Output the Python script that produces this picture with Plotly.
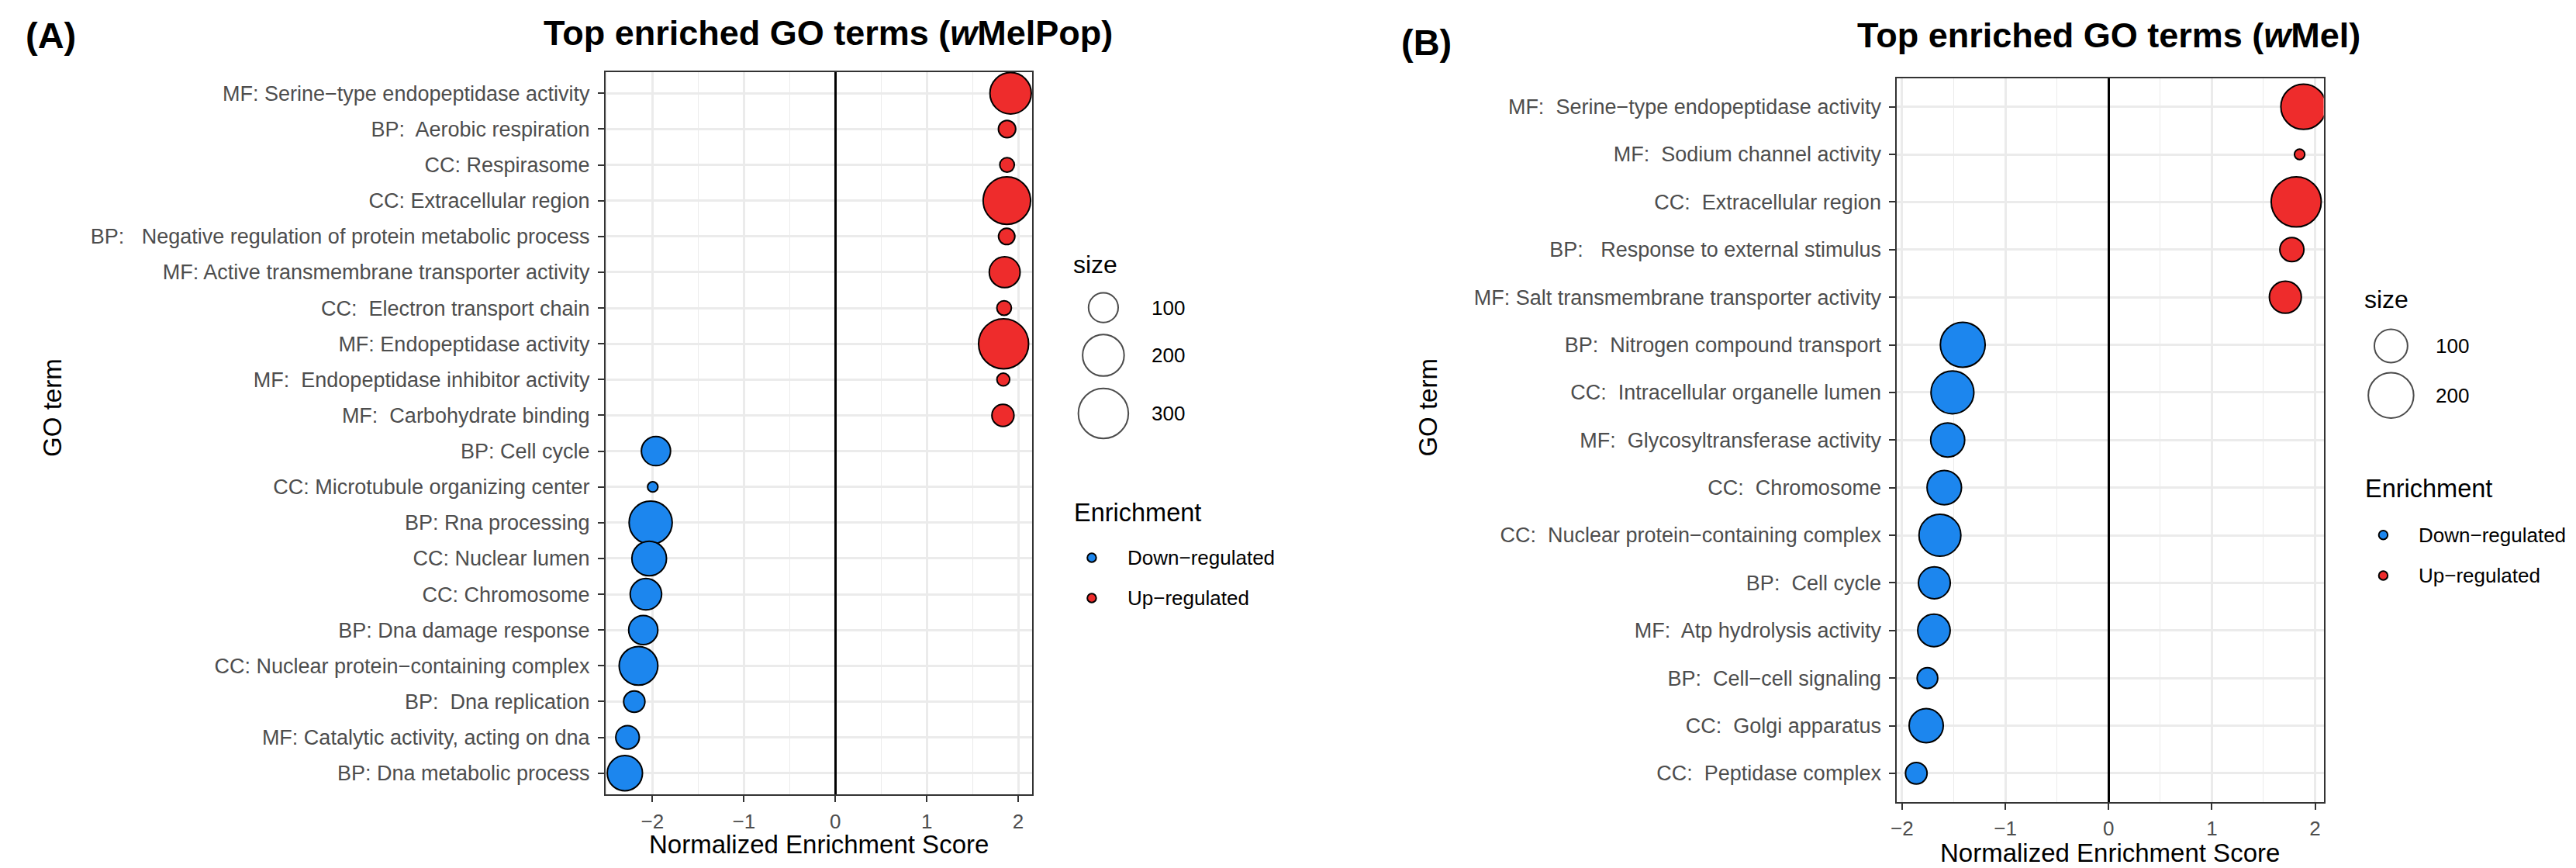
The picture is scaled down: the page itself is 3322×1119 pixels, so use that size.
import numpy as np
import plotly.graph_objects as go

W, H = 3322, 1119

# ---------------- data ----------------
terms_a = [
    "MF: Serine\u2212type endopeptidase activity",
    "BP:\u00a0 Aerobic respiration",
    "CC: Respirasome",
    "CC: Extracellular region",
    "BP:\u00a0\u00a0 Negative regulation of protein metabolic process",
    "MF: Active transmembrane transporter activity",
    "CC:\u00a0 Electron transport chain",
    "MF: Endopeptidase activity",
    "MF:\u00a0 Endopeptidase inhibitor activity",
    "MF:\u00a0 Carbohydrate binding",
    "BP: Cell cycle",
    "CC: Microtubule organizing center",
    "BP: Rna processing",
    "CC: Nuclear lumen",
    "CC: Chromosome",
    "BP: Dna damage response",
    "CC: Nuclear protein\u2212containing complex",
    "BP:\u00a0 Dna replication",
    "MF: Catalytic activity, acting on dna",
    "BP: Dna metabolic process",
]
nes_a = [1.917, 1.878, 1.878, 1.876, 1.874, 1.852, 1.846, 1.840, 1.837, 1.833,
         -1.962, -1.997, -2.020, -2.036, -2.072, -2.101, -2.153, -2.199, -2.273, -2.302]
size_a = [198, 46, 41, 267, 44, 108, 41, 300, 39, 61,
          97, 38, 217, 136, 112, 97, 172, 58, 67, 141]

terms_b = [
    "MF:\u00a0 Serine\u2212type endopeptidase activity",
    "MF:\u00a0 Sodium channel activity",
    "CC:\u00a0 Extracellular region",
    "BP:\u00a0\u00a0 Response to external stimulus",
    "MF: Salt transmembrane transporter activity",
    "BP:\u00a0 Nitrogen compound transport",
    "CC:\u00a0 Intracellular organelle lumen",
    "MF:\u00a0 Glycosyltransferase activity",
    "CC:\u00a0 Chromosome",
    "CC:\u00a0 Nuclear protein\u2212containing complex",
    "BP:\u00a0 Cell cycle",
    "MF:\u00a0 Atp hydrolysis activity",
    "BP:\u00a0 Cell\u2212cell signaling",
    "CC:\u00a0 Golgi apparatus",
    "CC:\u00a0 Peptidase complex",
]
nes_b = [1.888, 1.850, 1.817, 1.775, 1.712,
         -1.412, -1.512, -1.558, -1.591, -1.633, -1.687, -1.691, -1.754, -1.766, -1.862]
size_b = [200, 25, 250, 52, 92,
          195, 176, 105, 108, 167, 91, 95, 40, 106, 43]

size_breaks_a = [100, 200, 300]
size_breaks_b = [100, 200]
enrich_labels = ["Down\u2212regulated", "Up\u2212regulated"]
x_tick_vals = [-2, -1, 0, 1, 2]
x_tick_text = ["\u22122", "\u22121", "0", "1", "2"]
x_minor_vals = [-2.5, -1.5, -0.5, 0.5, 1.5]

# ---------------- style ----------------
COL_DOWN = "#1C86EE"
COL_UP = "#EE2C2C"
GRID = "#EBEBEB"
FONT = "Liberation Sans, Arial, Helvetica, sans-serif"
D_MIN, D_MAX = 15.3, 66.5
LW = 2.0


def diam(v, vmin, vmax):
    v = np.asarray(v, dtype=float)
    return D_MIN + (D_MAX - D_MIN) * np.sqrt(np.clip((v - vmin) / (vmax - vmin), 0, 1))


# panel pixel boxes (left, right, top, bottom)
PA = (766.8, 1318.3, 84.6, 1016.4)
PB = (2436.2, 2987.8, 92.8, 1025.7)


def dx(l, r):
    return [l / W, r / W]


def dy(t, b):
    return [1 - b / H, 1 - t / H]


def px(x):
    return x / W


def py(y):
    return 1 - y / H


fig = go.Figure()

vmin_a, vmax_a = min(size_a), max(size_a)
vmin_b, vmax_b = min(size_b), max(size_b)

fig.add_trace(go.Scatter(
    x=nes_a, y=terms_a, mode="markers", xaxis="x", yaxis="y",
    marker=dict(size=diam(size_a, vmin_a, vmax_a) - LW,
                color=[COL_UP if v > 0 else COL_DOWN for v in nes_a],
                line=dict(color="black", width=LW), opacity=1),
    showlegend=False, hoverinfo="skip"))

fig.add_trace(go.Scatter(
    x=nes_b, y=terms_b, mode="markers", xaxis="x2", yaxis="y2",
    marker=dict(size=diam(size_b, vmin_b, vmax_b) - LW,
                color=[COL_UP if v > 0 else COL_DOWN for v in nes_b],
                line=dict(color="black", width=LW), opacity=1),
    showlegend=False, hoverinfo="skip"))


def xaxis_cfg(box, rng):
    return dict(
        domain=dx(box[0], box[1]), range=rng,
        tickmode="array", tickvals=x_tick_vals, ticktext=x_tick_text,
        showgrid=True, gridcolor=GRID, gridwidth=2.6,
        minor=dict(tickmode="array", tickvals=x_minor_vals, showgrid=True,
                   gridcolor=GRID, gridwidth=1.4, ticks=""),
        zeroline=True, zerolinecolor="black", zerolinewidth=3,
        showline=True, mirror=True, linecolor="#333333", linewidth=2,
        ticks="outside", ticklen=8, tickwidth=2.2, tickcolor="#333333",
        tickfont=dict(family=FONT, size=26, color="#4D4D4D"),
        ticklabelstandoff=2, fixedrange=True)


def yaxis_cfg(box, terms, anchor):
    n = len(terms)
    return dict(
        domain=dy(box[2], box[3]), type="category",
        categoryorder="array", categoryarray=list(reversed(terms)),
        range=[-0.6, n - 1 + 0.6],
        showgrid=True, gridcolor=GRID, gridwidth=2.6, zeroline=False,
        showline=True, mirror=True, linecolor="#333333", linewidth=2,
        ticks="outside", ticklen=8, tickwidth=2.2, tickcolor="#333333",
        tickfont=dict(family=FONT, size=27, color="#4D4D4D"),
        ticklabelstandoff=5, anchor=anchor, fixedrange=True)


fig.update_layout(
    width=W, height=H, margin=dict(l=0, r=0, t=0, b=0),
    paper_bgcolor="white", plot_bgcolor="rgba(0,0,0,0)",
    font=dict(family=FONT, color="black"),
    xaxis=dict(anchor="y", **xaxis_cfg(PA, [-2.513, 2.153])),
    yaxis=yaxis_cfg(PA, terms_a, "x"),
    xaxis2=dict(anchor="y2", **xaxis_cfg(PB, [-2.049, 2.083])),
    yaxis2=yaxis_cfg(PB, terms_b, "x2"),
    xaxis3=dict(domain=[0, 1], range=[0, W], visible=False, fixedrange=True, anchor="y3"),
    yaxis3=dict(domain=[0, 1], range=[H, 0], visible=False, fixedrange=True, anchor="x3"),
    showlegend=False,
)

ann = []


def text(x, y, s, size, xanchor="left", bold=False, angle=0, color="black"):
    if bold:
        s = "<b>" + s + "</b>"
    ann.append(dict(x=px(x), y=py(y), xref="paper", yref="paper", text=s,
                    showarrow=False, xanchor=xanchor, yanchor="middle",
                    textangle=angle,
                    font=dict(family=FONT, size=size, color=color)))


# titles and tags
text(1055, 34.5, "Top enriched GO terms (<i>w</i>MelPop)", 45, "center", bold=True)
text(2710, 38, "Top enriched GO terms (<i>w</i>Mel)", 45, "center", bold=True)
text(50, 37.5, "(A)", 47, "center", bold=True)
text(1828, 46.5, "(B)", 47, "center", bold=True)

# axis titles
text((PA[0] + PA[1]) / 2, 1080, "Normalized Enrichment Score", 33, "center")
text((PB[0] + PB[1]) / 2, 1091.5, "Normalized Enrichment Score", 33, "center")
text(51, 517, "GO term", 33, "center", angle=-90)
text(1829, 517, "GO term", 33, "center", angle=-90)


# legends (drawn on an invisible full-figure pixel axis)
def legend(right, title_y, key_ys, breaks, vmin, vmax, key_dx, lab_dx, enr_title_y, enr_ys):
    text(right + 51, title_y, "size", 32)
    fig.add_trace(go.Scatter(
        x=[right + key_dx] * len(breaks), y=key_ys, mode="markers",
        xaxis="x3", yaxis="y3", cliponaxis=False,
        marker=dict(size=diam(breaks, vmin, vmax) - LW, color="rgba(0,0,0,0)",
                    line=dict(color="black", width=LW)),
        showlegend=False, hoverinfo="skip"))
    for b, yy in zip(breaks, key_ys):
        text(right + lab_dx, yy, str(b), 26)
    text(right + 52, enr_title_y, "Enrichment", 32.5)
    fig.add_trace(go.Scatter(
        x=[right + 77] * 2, y=enr_ys, mode="markers", xaxis="x3", yaxis="y3",
        cliponaxis=False,
        marker=dict(size=13.5 - LW, color=[COL_DOWN, COL_UP],
                    line=dict(color="black", width=LW)),
        showlegend=False, hoverinfo="skip"))
    for lab, yy in zip(enrich_labels, enr_ys):
        text(right + 121, yy, lab, 26)


legend(PA[1], 332.5, [388.6, 450, 525], size_breaks_a, vmin_a, vmax_a, 92, 152, 653.3, [711, 763])
legend(PB[1], 378.5, [438, 501.7], size_breaks_b, vmin_b, vmax_b, 87, 143, 622, [681.7, 734])

fig.update_layout(annotations=ann)
fig.write_html("out.html")
